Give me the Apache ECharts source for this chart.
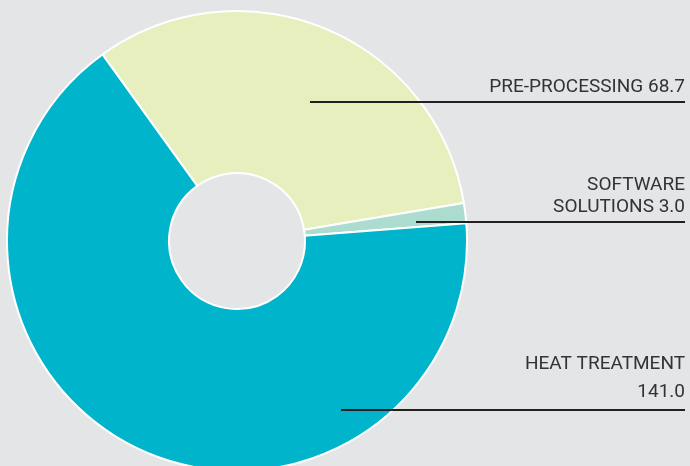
<!DOCTYPE html>
<html><head><meta charset="utf-8">
<script src="https://cdn.jsdelivr.net/npm/echarts@6/dist/echarts.min.js"></script>
<style>html,body{margin:0;padding:0;background:#e4e5e7;}#c{width:690px;height:466px;}</style>
</head><body><div id="c"></div>
<script>
const names = ['PRE-PROCESSING', 'SOFTWARE\nSOLUTIONS', 'HEAT TREATMENT'];
const values = [68.7, 3.0, 141.0];
const valueSeparators = [' ', ' ', '\n'];
const colors = ['#e6efbd', '#acdcd0', '#00b4cb'];

const lineYs = [102, 222, 410];
const lineStartX = [310, 416, 341];
const lineHeights = [22, 22, 28];

const common = {
  type: 'pie',
  center: [237, 241],
  radius: [68, 230],
  startAngle: 125.8,
  clockwise: true,
  avoidLabelOverlap: false
};

const chart = echarts.init(document.getElementById('c'));
chart.setOption({
  backgroundColor: '#e4e5e7',
  animation: false,
  series: [
    Object.assign({}, common, {
      z: 2,
      itemStyle: { borderColor: '#ffffff', borderWidth: 2 },
      label: { show: false },
      labelLine: { show: false },
      data: names.map((n, i) => ({ name: n, value: values[i], itemStyle: { color: colors[i] } }))
    }),
    Object.assign({}, common, {
      z: 5,
      silent: true,
      itemStyle: { color: 'rgba(0,0,0,0)', borderWidth: 0 },
      label: {
        show: true,
        position: 'outside',
        color: '#333333',
        fontFamily: 'Roboto',
        fontSize: 19,
        formatter: p => p.name + valueSeparators[p.dataIndex] + p.value.toFixed(1)
      },
      labelLine: { show: true, lineStyle: { color: '#231f20', width: 2 } },
      labelLayout: function (params) {
        const i = params.dataIndex;
        const y = lineYs[i];
        return {
          x: 685, y: y - 4, align: 'right', verticalAlign: 'bottom',
          labelLinePoints: [[lineStartX[i], y], [685, y], [685, y]]
        };
      },
      data: names.map((n, i) => ({
        name: n, value: values[i],
        label: { lineHeight: lineHeights[i] }
      }))
    })
  ]
});
</script>
</body></html>
